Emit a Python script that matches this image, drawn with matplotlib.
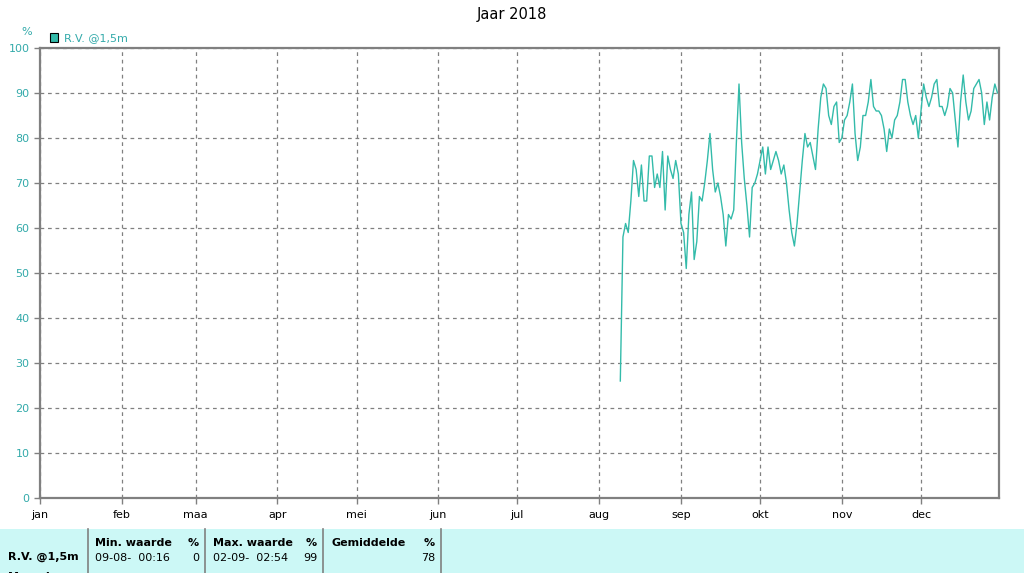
import numpy as np
import pandas as pd
import matplotlib
matplotlib.use('Agg')
import matplotlib.pyplot as plt
import matplotlib.dates as mdates

# relative humidity (%), daily readings from 9 Aug 2018
rv_aug = [26, 58, 61, 59, 66, 75, 73, 67, 74, 66, 66, 76, 76, 69, 72, 69, 77, 64, 76, 73, 71, 75, 72]
rv_sep = [61, 59, 51, 63, 68, 53, 57, 67, 66, 70, 75, 81, 73, 68, 70, 67, 63, 56, 63, 62,
          64, 79, 92, 79, 71, 65, 58, 69, 70, 72]
rv_okt = [75, 78, 72, 78, 73, 75, 77, 75, 72, 74, 70, 64, 59, 56, 61, 68, 75, 81, 78, 79,
          76, 73, 82, 89, 92, 91, 85, 83, 87, 88, 79]
rv_nov = [80, 84, 85, 88, 92, 81, 75, 78, 85, 85, 88, 93, 87, 86, 86, 85, 82, 77, 82, 80,
          84, 85, 88, 93, 93, 88, 85, 83, 85, 80]
rv_dec = [86, 92, 89, 87, 89, 92, 93, 87, 87, 85, 87, 91, 90, 84, 78, 88, 94, 88, 84, 86,
          91, 92, 93, 90, 83, 88, 84, 89, 92, 90]

rv = rv_aug + rv_sep + rv_okt + rv_nov + rv_dec
dates = pd.date_range('2018-08-09 00:16', periods=len(rv), freq='D')

months = ['jan', 'feb', 'maa', 'apr', 'mei', 'jun', 'jul', 'aug', 'sep', 'okt', 'nov', 'dec']
month_starts = pd.date_range('2018-01-01', periods=12, freq='MS')

# summary table
stat_headers = ['Min. waarde', 'Max. waarde', 'Gemiddelde']
stat_times = ['09-08-  00:16', '02-09-  02:54', '']
stat_values = ['0', '99', '78']

teal = '#33bbaa'
label_teal = '#33aaaa'
grey = '#808080'

fig = plt.figure(figsize=(10.24, 5.73), dpi=100)
W, H = 1024, 573
ax = fig.add_axes([40 / W, 1 - 498 / H, 959 / W, 450 / H])

ax.plot(dates, rv, color=teal, lw=1.0)

ax.set_xlim(pd.Timestamp('2018-01-01'), pd.Timestamp('2018-12-30 14:00'))
ax.set_ylim(0, 100)
ax.set_yticks(range(0, 101, 10))
ax.set_xticks(month_starts)
ax.set_xticklabels(months)

ax.grid(True, color=grey, linestyle=(0, (3, 3)), linewidth=0.9)
for s in ax.spines.values():
    s.set_color(grey)
    s.set_linewidth(1.6)
ax.tick_params(axis='y', colors=grey, labelcolor=label_teal, labelsize=8, length=4, width=1)
ax.tick_params(axis='x', colors=grey, labelcolor='black', labelsize=8, length=4, width=1, pad=5)

fig.text(0.5, 1 - 15 / H, 'Jaar 2018', ha='center', va='center', fontsize=10.5)
fig.text(27 / W, 1 - 32 / H, '%', ha='center', va='center', color=label_teal, fontsize=8)
fig.patches.append(plt.Rectangle((50 / W, 1 - 42 / H), 8 / W, 9 / H, transform=fig.transFigure,
                                 facecolor=teal, edgecolor='black', lw=0.8))
fig.text(64 / W, 1 - 38 / H, 'R.V. @1,5m', ha='left', va='center', color=label_teal, fontsize=8)

# bottom summary band
fig.patches.append(plt.Rectangle((0, 0), 1, 1 - 529 / H, transform=fig.transFigure,
                                 facecolor='#ccf8f6', edgecolor='none'))
for xd in [88, 205, 323, 441]:
    fig.add_artist(plt.Line2D([xd / W, xd / W], [0, 1 - 529 / H], transform=fig.transFigure,
                              color=grey, lw=1.2))
fig.text(8 / W, 1 - 557 / H, 'R.V. @1,5m', ha='left', va='center', fontsize=8, fontweight='bold')
fig.text(8 / W, 1 - 577 / H, 'Maand', ha='left', va='center', fontsize=8, fontweight='bold')
for i, (hd, tm, val) in enumerate(zip(stat_headers, stat_times, stat_values)):
    x0 = 95 + i * 118
    fig.text(x0 / W, 1 - 543 / H, hd, ha='left', va='center', fontsize=8, fontweight='bold')
    fig.text((x0 + 104) / W, 1 - 543 / H, '%', ha='right', va='center', fontsize=8, fontweight='bold')
    fig.text(x0 / W, 1 - 558 / H, tm, ha='left', va='center', fontsize=8)
    fig.text((x0 + 104) / W, 1 - 558 / H, val, ha='right', va='center', fontsize=8)

fig.savefig('out.png', dpi=100)
